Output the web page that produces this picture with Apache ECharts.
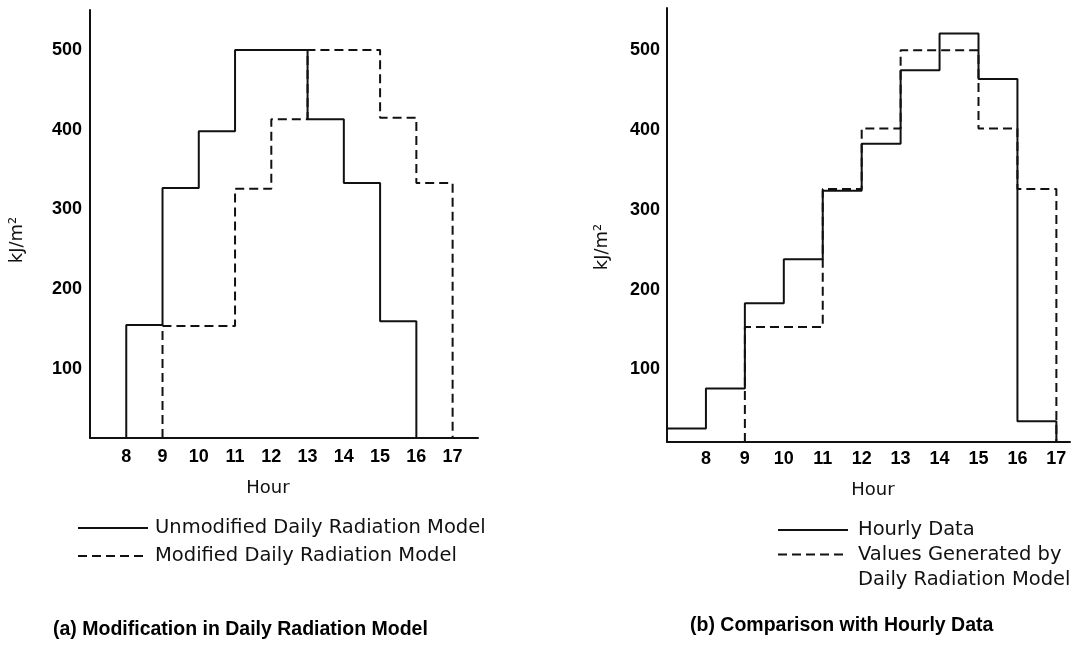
<!DOCTYPE html>
<html>
<head>
<meta charset="utf-8">
<script src="https://cdn.jsdelivr.net/npm/echarts@6/dist/echarts.min.js"></script>
<style>
  html, body { margin: 0; padding: 0; background: #fff; }
  #chart { width: 1074px; height: 646px; }
</style>
</head>
<body>
<div id="chart"></div>
<script>
// (a) step start hours and values, kJ/m2
const unmodHours = [8, 9, 10, 11, 12, 13, 14, 15]
const unmodValues = [155, 327, 398, 500, 500, 413, 333, 160]
const modHours = [9, 10, 11, 12, 13, 14, 15, 16]
const modValues = [154, 154, 326, 413, 500, 500, 415, 333]

// (b)
const hourlyHours = [7, 8, 9, 10, 11, 12, 13, 14, 15, 16]
const hourlyValues = [26, 76, 183, 238, 324, 383, 475, 521, 464, 35]
const modelHours = [9, 10, 11, 12, 13, 14, 15, 16]
const modelValues = [153, 153, 326, 402, 500, 500, 402, 326]

const xTicks = [8, 9, 10, 11, 12, 13, 14, 15, 16, 17]
const yTicks = [100, 200, 300, 400, 500]

const yMinA = 13.5, yMaxA = 550
const yMinB = 9, yMaxB = 553

// each value holds for one hour; drop back to the axis at both ends
function stepPoints(hours, values, base) {
  const pts = [[hours[0], base]]
  hours.forEach((h, i) => {
    pts.push([h, values[i]], [h + 1, values[i]])
  })
  pts.push([hours[hours.length - 1] + 1, base])
  return pts
}

const ink = '#111'
const dash = [9, 5]
const tickFont = { color: '#000', fontFamily: 'Liberation Sans', fontWeight: 'bold', fontSize: 18 }
const nameFont = { color: ink, fontFamily: 'DejaVu Sans', fontSize: 18 }
const legendFont = { color: ink, fontFamily: 'DejaVu Sans', fontSize: 19.5 }
const titleFont = { color: '#000', fontFamily: 'Liberation Sans', fontWeight: 'bold', fontSize: 19.5 }

function xAxisFor(gridIndex, max, namePad, margin, gap) {
  return {
    type: 'value',
    gridIndex,
    min: 7,
    max,
    name: 'Hour',
    nameLocation: 'middle',
    nameGap: gap,
    nameTextStyle: Object.assign({ padding: namePad }, nameFont),
    axisLine: { lineStyle: { color: ink, width: 2 } },
    axisTick: { show: false },
    splitLine: { show: false },
    axisLabel: Object.assign({ customValues: xTicks, margin }, tickFont)
  }
}

function yAxisFor(gridIndex, min, max, namePad, gap, margin) {
  return {
    type: 'value',
    gridIndex,
    min,
    max,
    name: 'kJ/m²',
    nameLocation: 'middle',
    nameRotate: 90,
    nameGap: gap,
    nameTextStyle: Object.assign({ padding: namePad }, nameFont),
    axisLine: { show: true, lineStyle: { color: ink, width: 2 } },
    axisTick: { show: false },
    splitLine: { show: false },
    axisLabel: Object.assign({ customValues: yTicks, margin }, tickFont)
  }
}

function stepSeries(name, xi, yi, data, type) {
  return {
    type: 'line',
    name,
    xAxisIndex: xi,
    yAxisIndex: yi,
    data,
    symbol: 'none',
    showSymbol: false,
    silent: true,
    lineStyle: { color: ink, width: 2, type }
  }
}

// plain line keys, no marker dot
const legendBase = {
  orient: 'vertical',
  padding: 0,
  itemWidth: 70,
  itemHeight: 14,
  selectedMode: false,
  itemStyle: { opacity: 0 },
  lineStyle: { width: 2 }
}

const chart = echarts.init(document.getElementById('chart'))

chart.setOption({
  animation: false,
  backgroundColor: '#fff',
  color: [ink],
  title: [
    { text: '(a) Modification in Daily Radiation Model', left: 53, top: 620, padding: 0, textStyle: titleFont },
    { text: '(b) Comparison with Hourly Data', left: 690, top: 616, padding: 0, textStyle: titleFont }
  ],
  legend: [
    Object.assign({}, legendBase, {
      data: ['Unmodified Daily Radiation Model', 'Modified Daily Radiation Model'],
      left: 77, top: 518, itemGap: 8,
      textStyle: Object.assign({ padding: [0, 0, 0, 2] }, legendFont)
    }),
    Object.assign({}, legendBase, {
      data: ['Hourly Data'],
      left: 777, top: 520,
      textStyle: Object.assign({ padding: [0, 0, 0, 5] }, legendFont)
    }),
    Object.assign({}, legendBase, {
      data: ['Values Generated by Daily Radiation Model'],
      left: 777, top: 517,
      // empty first line keeps the key level with "Values Generated by"
      formatter: () => '\nValues Generated by\nDaily Radiation Model',
      textStyle: Object.assign({ lineHeight: 25, padding: [0, 0, 0, 5] }, legendFont)
    })
  ],
  grid: [
    { left: 90, top: 10, width: 388, height: 428, outerBoundsMode: 'none' },
    { left: 667, top: 8, width: 403, height: 434, outerBoundsMode: 'none' }
  ],
  xAxis: [
    xAxisFor(0, 17.7, [0, 32, 0, 0], 10, 41),
    xAxisFor(1, 17.35, [0, 0, 0, 9], 8, 39)
  ],
  yAxis: [
    yAxisFor(0, yMinA, yMaxA, [0, 32, 0, 0], 64, 8),
    yAxisFor(1, yMinB, yMaxB, [0, 44, 0, 0], 56, 7)
  ],
  series: [
    stepSeries('Unmodified Daily Radiation Model', 0, 0, stepPoints(unmodHours, unmodValues, yMinA), 'solid'),
    stepSeries('Modified Daily Radiation Model', 0, 0, stepPoints(modHours, modValues, yMinA), dash),
    stepSeries('Hourly Data', 1, 1, stepPoints(hourlyHours, hourlyValues, yMinB), 'solid'),
    stepSeries('Values Generated by Daily Radiation Model', 1, 1, stepPoints(modelHours, modelValues, yMinB), dash)
  ]
})
</script>
</body>
</html>
